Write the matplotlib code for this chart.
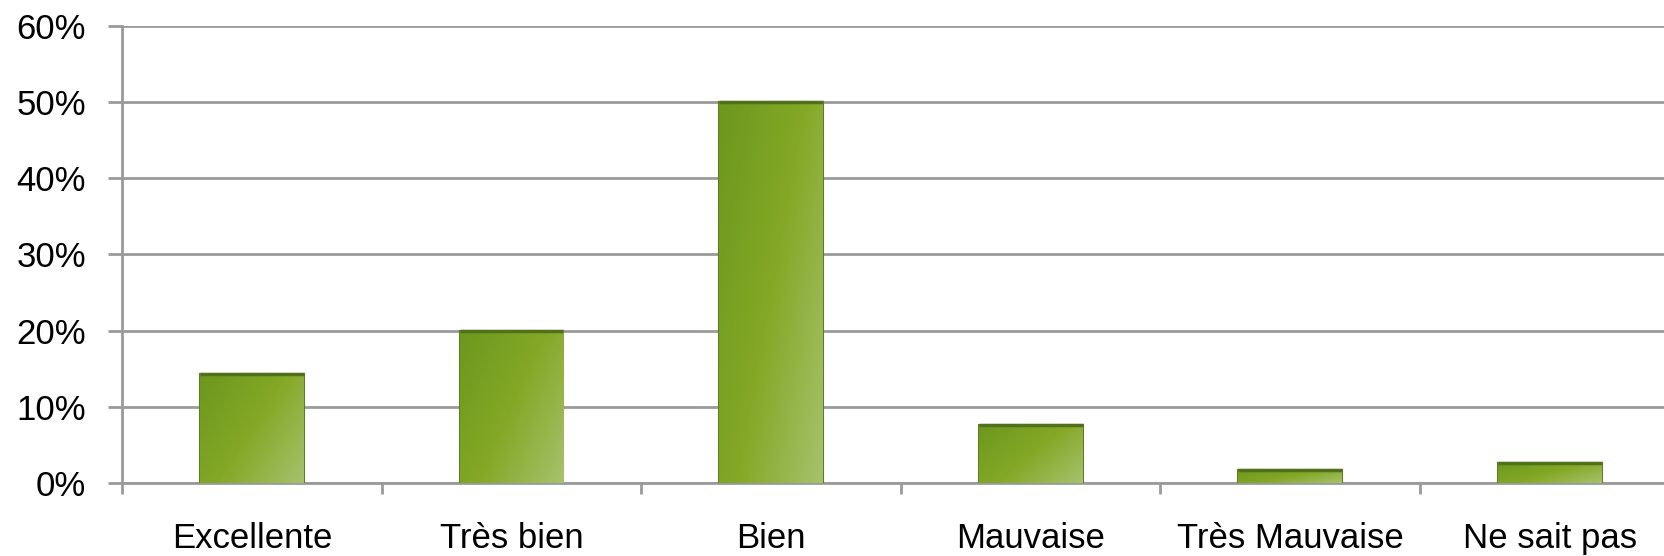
import numpy as np
import matplotlib.pyplot as plt
from matplotlib.ticker import FixedLocator, PercentFormatter

categories = ['Excellente', 'Très bien', 'Bien', 'Mauvaise', 'Très Mauvaise', 'Ne sait pas']
values = [14.3, 20.0, 50.0, 7.6, 1.7, 2.6]
y_ticks = [0, 10, 20, 30, 40, 50, 60]

plt.rcParams['font.family'] = ['Liberation Sans', 'DejaVu Sans']

fig = plt.figure(figsize=(16.65, 5.56), dpi=100)
ax = fig.add_axes([0.0733, 0.1313, 0.9355, 0.822])

x = np.arange(len(categories))
bars = ax.bar(x, values, width=0.40, color='#7fa428', edgecolor='#5e7a2a', linewidth=1.5, zorder=3)

# gradient fill: darker green top-left to lighter bottom-right
gx, gy = np.meshgrid(np.linspace(0, 1, 60), np.linspace(0, 1, 60))
grad = 0.6 * gx + 0.4 * gy
cmap = plt.matplotlib.colors.LinearSegmentedColormap.from_list(
    'g', ['#6c981e', '#84a826', '#a6c26c'])
for b in bars:
    x0, y0 = b.get_x(), b.get_y()
    w, h = b.get_width(), b.get_height()
    im = ax.imshow(grad, extent=[x0, x0 + w, y0, y0 + h], origin='upper',
                   cmap=cmap, aspect='auto', zorder=3.5, interpolation='bilinear')
    im.set_clip_path(b)
    ax.plot([x0, x0 + w], [y0 + h, y0 + h], color='#50701a', lw=2.5, zorder=4,
            solid_capstyle='butt')

ax.set_xlim(-0.5, len(categories) - 0.5)
ax.set_ylim(0, 60)
ax.set_yticks(y_ticks)
ax.yaxis.set_major_formatter(PercentFormatter(decimals=0))
ax.set_xticks(x)
ax.set_xticklabels(categories)
ax.xaxis.set_minor_locator(FixedLocator(np.arange(len(categories) + 1) - 0.5))

ax.grid(axis='y', color='#9a9a9a', linewidth=2, zorder=0)
ax.set_axisbelow(True)
for s in ['top', 'right']:
    ax.spines[s].set_visible(False)
ax.spines['left'].set_color('#9a9a9a')
ax.spines['left'].set_linewidth(2)
ax.spines['bottom'].set_color('#9a9a9a')
ax.spines['bottom'].set_linewidth(2)

ax.tick_params(axis='x', which='major', length=0, pad=28, labelsize=25, labelcolor='black')
ax.tick_params(axis='x', which='minor', length=8, width=2, color='#9a9a9a')
ax.tick_params(axis='y', length=10, width=2, color='#9a9a9a', pad=16, labelsize=25)

fig.savefig('out.png', dpi=100)
